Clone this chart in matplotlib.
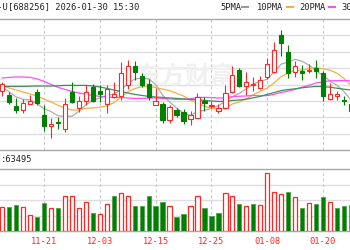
import matplotlib.pyplot as plt
from matplotlib.patches import Rectangle
from matplotlib.lines import Line2D
import numpy as np

plt.rcParams['font.family'] = ['DejaVu Sans Mono', 'Noto Sans CJK SC']

# daily k-line of 688256, the visible part of the window (11-13 .. 01-26)
dates = ["11-21", "12-03", "12-15", "12-25", "01-08", "01-20"]
date_idx = [6, 14, 22, 30, 38, 46]

opens = [1295, 1275, 1220, 1200, 1230, 1290, 1175, 1118, 1138, 1103,
         1290, 1210, 1243, 1313, 1295, 1228, 1263, 1270, 1325, 1418,
         1368, 1330, 1225, 1230, 1148, 1198, 1190, 1155, 1160, 1243,
         1218, 1195, 1208, 1290, 1400, 1318, 1323, 1308, 1365, 1390,
         1575, 1490, 1390, 1393, 1393, 1410, 1383, 1255, 1270, 1250,
         1228]
closes = [1330, 1240, 1200, 1235, 1243, 1235, 1118, 1128, 1133, 1228,
          1240, 1243, 1290, 1245, 1280, 1305, 1280, 1383, 1418, 1388,
          1325, 1265, 1243, 1150, 1215, 1175, 1143, 1173, 1265, 1235,
          1225, 1208, 1285, 1375, 1320, 1340, 1330, 1350, 1430, 1500,
          1533, 1385, 1418, 1385, 1400, 1393, 1268, 1278, 1280, 1243,
          1193]
highs = [1340, 1290, 1260, 1255, 1275, 1305, 1225, 1160, 1165, 1260,
         1340, 1268, 1325, 1328, 1325, 1325, 1340, 1440, 1450, 1443,
         1385, 1355, 1308, 1240, 1225, 1210, 1203, 1195, 1283, 1265,
         1243, 1228, 1323, 1420, 1410, 1390, 1365, 1368, 1460, 1538,
         1600, 1525, 1443, 1425, 1428, 1450, 1393, 1333, 1295, 1270,
         1240]
lows = [1270, 1230, 1185, 1185, 1228, 1225, 1095, 1060, 1105, 1090,
        1235, 1190, 1225, 1240, 1240, 1185, 1260, 1250, 1305, 1350,
        1315, 1250, 1223, 1133, 1133, 1165, 1130, 1125, 1158, 1193,
        1208, 1183, 1205, 1285, 1315, 1275, 1295, 1305, 1355, 1385,
        1470, 1360, 1363, 1350, 1383, 1360, 1245, 1250, 1250, 1225,
        1185]

ma5 = [1315, 1290, 1265, 1253, 1250, 1231, 1206, 1192, 1171, 1168,
       1169, 1194, 1227, 1249, 1260, 1273, 1280, 1299, 1333, 1355,
       1359, 1356, 1328, 1274, 1240, 1210, 1185, 1171, 1194, 1198,
       1208, 1221, 1244, 1266, 1283, 1306, 1330, 1343, 1354, 1390,
       1429, 1440, 1453, 1444, 1424, 1396, 1373, 1345, 1324, 1292,
       1252]
ma10 = [1320, 1310, 1300, 1290, 1280, 1270, 1255, 1240, 1223, 1209,
        1200, 1200, 1209, 1210, 1214, 1221, 1237, 1263, 1291, 1307,
        1316, 1318, 1313, 1304, 1297, 1284, 1270, 1249, 1234, 1219,
        1209, 1203, 1207, 1230, 1240, 1257, 1276, 1293, 1310, 1336,
        1367, 1385, 1398, 1399, 1407, 1412, 1406, 1399, 1384, 1358,
        1324]
ma20 = [1360, 1363, 1365, 1365, 1363, 1355, 1343, 1328, 1313, 1303,
        1293, 1285, 1278, 1273, 1268, 1265, 1263, 1263, 1260, 1258,
        1258, 1259, 1261, 1257, 1256, 1253, 1254, 1256, 1263, 1263,
        1262, 1260, 1260, 1267, 1269, 1270, 1273, 1271, 1272, 1278,
        1288, 1294, 1303, 1314, 1324, 1335, 1341, 1346, 1347, 1347,
        1346]
ma30 = [1318, 1318, 1318, 1318, 1319, 1320, 1320, 1320, 1321, 1323,
        1323, 1323, 1323, 1320, 1315, 1308, 1300, 1293, 1285, 1278,
        1273, 1268, 1265, 1263, 1260, 1258, 1255, 1253, 1250, 1248,
        1245, 1243, 1243, 1248, 1250, 1254, 1261, 1268, 1278, 1287,
        1297, 1302, 1306, 1311, 1315, 1318, 1317, 1314, 1309, 1304,
        1300]

volumes = [23700, 24300, 26000, 23700, 16000, 14300, 27700, 22700, 22700, 35300,
           35000, 22700, 28700, 18000, 17000, 27000, 34700, 38300, 35000, 24700,
           24700, 35300, 24700, 28700, 24700, 14300, 16700, 25300, 35000, 22700,
           15300, 17700, 37700, 35000, 27000, 25300, 27000, 26000, 57700, 39300,
           36700, 38700, 34300, 22700, 27700, 27000, 34300, 28700, 22700, 24700,
           26000]
# volume bar colour: 1 = up day (red), 0 = down day (green)
vol_up = [1, 0, 0, 1, 1, 0, 0, 1, 0, 1,
          1, 1, 1, 0, 1, 1, 0, 1, 1, 0,
          0, 0, 0, 0, 1, 0, 0, 1, 1, 0,
          0, 0, 1, 1, 0, 1, 0, 1, 1, 1,
          1, 0, 1, 0, 1, 0, 0, 1, 0, 0,
          0]

RED = "#ff2626"
GREEN = "#008000"
GRID = "#dedede"
FRAME = "#a8a8a8"
W, H = 350, 250


def fx(x):
    return x / W


def fy(y):
    return 1 - y / H


fig = plt.figure(figsize=(3.5, 2.5), dpi=100)

x = np.arange(len(opens))

# price panel
ax = fig.add_axes([0, fy(150), 1, 131 / H])
ax.set_xlim(-0.33, 49.88)
ax.set_ylim(1000, 1655)

for v in np.linspace(1000, 1655, 9)[1:-1]:
    ax.axhline(v, color=GRID, lw=1, zorder=0.2)
for i in date_idx:
    ax.axvline(i, color="#c8c8c8", lw=0.8, ls=(0, (2.5, 2.5)), zorder=0.3)

# faint site watermark
ax.text(fx(186), fy(77), "东方财富", transform=fig.transFigure,
        family="Noto Sans CJK SC", fontsize=18, fontweight="bold",
        color="#f0f0f0", ha="center", va="center", zorder=0.5)

ax.plot(x, ma5, color="#adadad", lw=0.9, zorder=2)
ax.plot(x, ma10, color="#f5b041", lw=0.9, zorder=2)
ax.plot(x, ma20, color="#ff4dff", lw=0.9, zorder=2)
ax.plot(x, ma30, color="#3d8f5f", lw=0.9, zorder=2)

for i in x:
    up = closes[i] >= opens[i]
    col = RED if up else GREEN
    ax.vlines(i, lows[i], highs[i], color=col, lw=0.8, zorder=3)
    lo = min(opens[i], closes[i])
    hi = max(opens[i], closes[i])
    ax.add_patch(Rectangle((i - 0.31, lo), 0.62, max(hi - lo, 3),
                           facecolor="white" if up else col,
                           edgecolor=col, lw=0.8, zorder=4))

ax.set_xticks([])
ax.set_yticks([])
for side in ["left", "right"]:
    ax.spines[side].set_visible(False)
for side in ["top", "bottom"]:
    ax.spines[side].set_color(FRAME)
    ax.spines[side].set_linewidth(1)

# volume panel
vax = fig.add_axes([0, fy(231), 1, 62 / H])
vax.set_xlim(-0.33, 49.88)
vax.set_ylim(0, 62000)

for v in np.linspace(0, 62000, 5)[1:-1]:
    vax.axhline(v, color=GRID, lw=1, zorder=0.2)
for i in date_idx:
    vax.axvline(i, color="#c8c8c8", lw=0.8, ls=(0, (2.5, 2.5)), zorder=0.3)

for i in x:
    if vol_up[i]:
        vax.bar(i, volumes[i], width=0.62, facecolor="white",
                edgecolor=RED, lw=0.9, zorder=3)
    else:
        vax.bar(i, volumes[i], width=0.62, facecolor=GREEN,
                edgecolor="#4ea24e", lw=0.6, zorder=3)

vax.set_yticks([])
vax.set_xticks(date_idx, dates)
vax.tick_params(axis="x", length=0, pad=4, labelcolor=RED, labelsize=6.3)
for side in ["left", "right"]:
    vax.spines[side].set_visible(False)
for side in ["top", "bottom"]:
    vax.spines[side].set_color(FRAME)
    vax.spines[side].set_linewidth(1)

# header and labels (the reference view is cropped at both sides)
fig.text(fx(8), fy(7), "寒武纪-U", ha="right", va="center",
         fontsize=6.3, color="#222222")
fig.text(fx(8), fy(7), "[688256] 2026-01-30 15:30", ha="left", va="center",
         fontsize=6.3, color="#222222")
fig.text(fx(0.5), fy(160), ":63495", ha="left", va="center",
         fontsize=6.3, color="#222222")

legend = [("5PMA", 220, 242, "#9a9a9a"),
          ("10PMA", 257, 287, "#f5b041"),
          ("20PMA", 299, 329, "#ff4dff"),
          ("30PMA", 341, 371, "#3d8f5f")]
for label, tx, lx, col in legend:
    fig.text(fx(tx), fy(7), label, ha="left", va="center",
             fontsize=6.3, color="#222222")
    fig.add_artist(Line2D([fx(lx), fx(lx + 6)], [fy(7), fy(7)],
                          transform=fig.transFigure, color=col, lw=1.5))

fig.savefig("out.png", dpi=100)
plt.close(fig)
